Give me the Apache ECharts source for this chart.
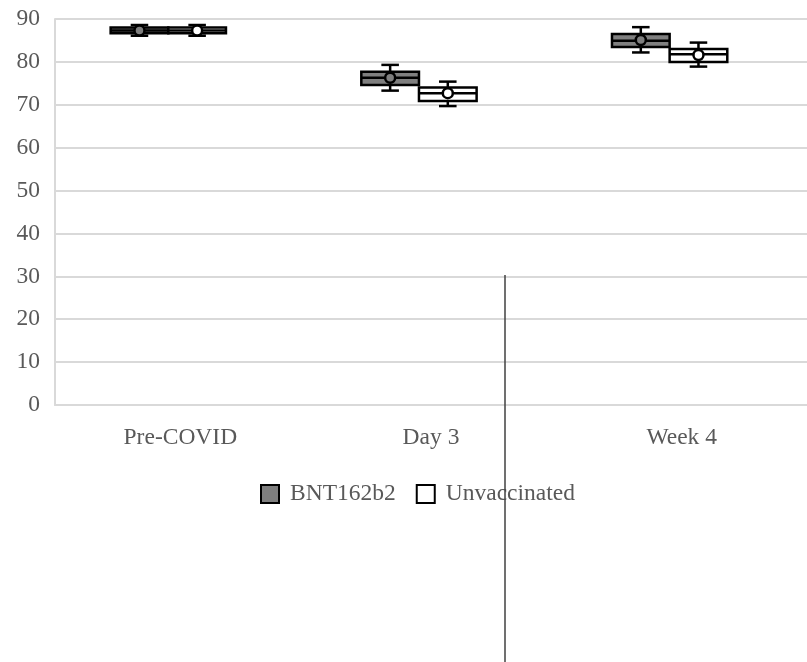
<!DOCTYPE html>
<html>
<head>
<meta charset="utf-8">
<script src="https://cdn.jsdelivr.net/npm/echarts@6/dist/echarts.min.js"></script>
<style>
html,body{margin:0;padding:0;background:#fff;}
#chart{width:807px;height:662px;}
</style>
</head>
<body>
<div id="chart"></div>
<script>
const categories = ['Pre-COVID', 'Day 3', 'Week 4'];
const yTicks = [0, 10, 20, 30, 40, 50, 60, 70, 80, 90];

const bntMin    = [86.1, 73.3, 82.2];
const bntQ1     = [86.7, 74.6, 83.5];
const bntMedian = [87.3, 76.3, 84.9];
const bntQ3     = [88.0, 77.7, 86.5];
const bntMax    = [88.6, 79.3, 88.1];
const bntMean   = [87.3, 76.3, 85.1];

const unvMin    = [86.1, 69.7, 78.9];
const unvQ1     = [86.7, 70.9, 80.0];
const unvMedian = [87.3, 72.7, 81.8];
const unvQ3     = [88.0, 74.0, 83.0];
const unvMax    = [88.6, 75.4, 84.5];
const unvMean   = [87.3, 72.7, 81.6];

function buildData(mn, q1, md, q3, mx, mean) {
  return categories.map((c, i) => [i, mn[i], q1[i], md[i], q3[i], mx[i], mean[i]]);
}

const FONT = '"Liberation Serif", "Times New Roman", serif';

function makeRender(side, fill) {
  return function (params, api) {
    const cat = api.value(0);
    const band = api.size([1, 0])[0];
    const w = band * 0.23;
    const off = -band * 0.048;
    const cx = api.coord([cat, 0])[0];
    const x0 = side === 0 ? cx + off - w : cx + off;
    const mid = x0 + w / 2;
    const capW = band * 0.07;
    const y = (v) => api.coord([cat, v])[1];
    const yMin = y(api.value(1)), yQ1 = y(api.value(2)), yMed = y(api.value(3)),
          yQ3 = y(api.value(4)), yMax = y(api.value(5)), yMean = y(api.value(6));
    const ls = { stroke: '#000', lineWidth: 2.5, fill: null };
    return {
      type: 'group',
      children: [
        { type: 'line', shape: { x1: mid, y1: yMax, x2: mid, y2: yQ3 }, style: ls },
        { type: 'line', shape: { x1: mid, y1: yQ1, x2: mid, y2: yMin }, style: ls },
        { type: 'line', shape: { x1: mid - capW / 2, y1: yMax, x2: mid + capW / 2, y2: yMax }, style: ls },
        { type: 'line', shape: { x1: mid - capW / 2, y1: yMin, x2: mid + capW / 2, y2: yMin }, style: ls },
        { type: 'rect', shape: { x: x0, y: yQ3, width: w, height: yQ1 - yQ3 }, style: { fill: fill, stroke: '#000', lineWidth: 2.5 } },
        { type: 'line', shape: { x1: x0, y1: yMed, x2: x0 + w, y2: yMed }, style: ls },
        { type: 'circle', shape: { cx: mid, cy: yMean, r: 5 }, style: { fill: fill, stroke: '#000', lineWidth: 2.5 } }
      ]
    };
  };
}

const chart = echarts.init(document.getElementById('chart'));
chart.setOption({
  animation: false,
  backgroundColor: '#fff',
  grid: { left: 55, right: 0, top: 19, bottom: 257, containLabel: false },
  legend: {
    left: 255, top: 477,
    itemWidth: 18, itemHeight: 18, itemGap: 20,
    textStyle: { fontFamily: FONT, fontSize: 23.5, color: '#595959', padding: [0, 0, 0, 6] },
    data: [
      { name: 'BNT162b2', icon: 'rect', itemStyle: { color: '#7f7f7f', borderColor: '#000', borderWidth: 2 } },
      { name: 'Unvaccinated', icon: 'rect', itemStyle: { color: '#fff', borderColor: '#000', borderWidth: 2 } }
    ]
  },
  xAxis: {
    type: 'category',
    data: categories,
    boundaryGap: true,
    axisLine: { show: true, lineStyle: { color: '#d9d9d9', width: 2 } },
    axisTick: { show: false },
    axisLabel: { fontFamily: FONT, fontSize: 23.5, color: '#595959', margin: 21 },
    splitLine: { show: false }
  },
  yAxis: {
    type: 'value',
    min: yTicks[0], max: yTicks[yTicks.length - 1], interval: 10,
    axisLine: { show: true, lineStyle: { color: '#d9d9d9', width: 2 } },
    axisTick: { show: false },
    axisLabel: { fontFamily: FONT, fontSize: 23.5, color: '#595959', margin: 15, padding: [3, 0, 0, 0] },
    splitLine: { show: true, lineStyle: { color: '#d9d9d9', width: 2 } }
  },
  series: [
    {
      name: 'BNT162b2', type: 'custom',
      itemStyle: { color: '#7f7f7f', borderColor: '#000', borderWidth: 2 },
      renderItem: makeRender(0, '#7f7f7f'),
      encode: { x: 0, y: [1, 2, 3, 4, 5, 6] },
      data: buildData(bntMin, bntQ1, bntMedian, bntQ3, bntMax, bntMean)
    },
    {
      name: 'Unvaccinated', type: 'custom',
      itemStyle: { color: '#fff', borderColor: '#000', borderWidth: 2 },
      renderItem: makeRender(1, '#ffffff'),
      encode: { x: 0, y: [1, 2, 3, 4, 5, 6] },
      data: buildData(unvMin, unvQ1, unvMedian, unvQ3, unvMax, unvMean)
    }
  ],
  graphic: [
    { type: 'line', z: 100, shape: { x1: 505, y1: 275, x2: 505, y2: 662 }, style: { stroke: '#404040', lineWidth: 1.5 } }
  ]
});
</script>
</body>
</html>
